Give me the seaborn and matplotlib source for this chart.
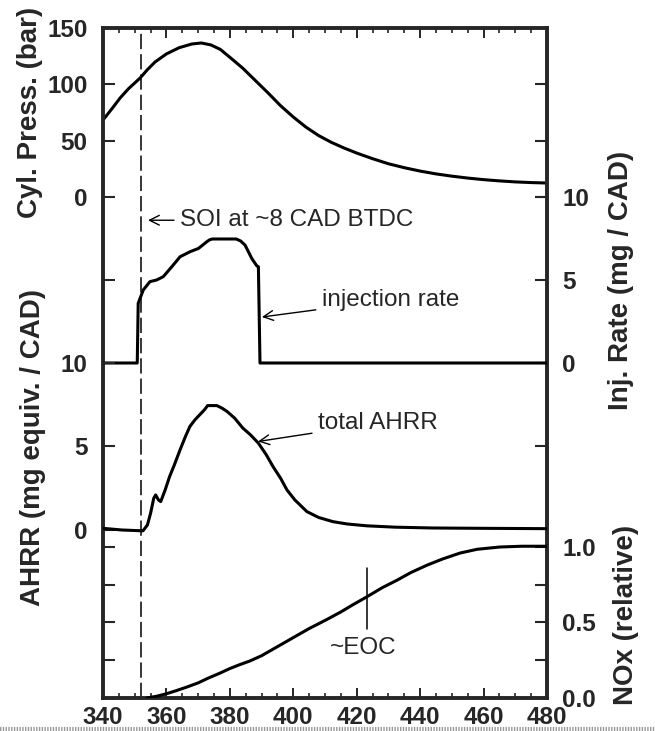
import matplotlib
matplotlib.use("Agg")
import matplotlib.pyplot as plt
from matplotlib.ticker import MultipleLocator
from matplotlib.lines import Line2D
import seaborn as sns

# style
sns.set_style("ticks")
plt.rcParams['font.family'] = ['Liberation Sans', 'DejaVu Sans']
plt.rcParams['font.weight'] = 'bold'
plt.rcParams['lines.scale_dashes'] = False

# cylinder pressure (bar) vs crank angle
press_cad = [340, 343, 345.4, 348, 351.7, 354, 356.4, 360, 364, 368, 371, 374, 377,
             380, 384, 388, 392, 396, 400, 404, 408, 412, 416, 420, 425, 430, 435,
             440, 445, 450, 455, 460, 465, 470, 475, 480]
press_bar = [68.3, 79.0, 87.9, 96.0, 105.6, 113.0, 119.8, 127.0, 132.5, 135.8, 136.7,
             135.0, 131.0, 124.0, 114.5, 103.5, 92.5, 81.0, 71.0, 62.0, 54.5, 48.5,
             43.5, 39.0, 34.0, 29.5, 26.0, 23.0, 20.5, 18.5, 16.8, 15.4, 14.3, 13.4,
             12.8, 12.4]

# injection rate (mg / CAD)
inj_cad = [340, 350.8, 351.1, 352.7, 354.8, 356.9, 359.0, 361.7, 364.3, 367.4, 370.1,
           372.7, 373.6, 374.5, 382.0, 383.4, 384.8, 386.9, 388.5, 389.0, 389.5, 480]
inj_rate = [0, 0, 3.6, 4.4, 4.9, 5.0, 5.2, 5.8, 6.4, 6.7, 6.9,
            7.3, 7.42, 7.47, 7.47, 7.35, 7.1, 6.3, 5.85, 5.8, 0, 0]

# apparent heat release rate (mg equiv. / CAD)
ahrr_cad = [340, 346, 352.6, 354, 355, 356, 356.6, 357.5, 358.2, 359.6, 361, 362.5,
            364.3, 366, 367.4, 369, 370.5, 372, 373, 375.9, 377.5, 379.1, 381.5,
            384.1, 386.5, 389, 391.5, 393.6, 396, 398, 400.5, 404.3, 408, 412.5,
            417, 423.2, 432, 444, 460, 480]
ahrr = [0.1, 0.0, -0.05, 0.3, 1.0, 1.9, 2.1, 1.8, 1.7, 2.4, 3.2, 3.9,
        4.8, 5.6, 6.2, 6.6, 6.9, 7.2, 7.45, 7.45, 7.3, 7.1, 6.7,
        6.1, 5.7, 5.2, 4.5, 3.8, 3.1, 2.4, 1.8, 1.1, 0.75, 0.5,
        0.36, 0.25, 0.17, 0.12, 0.1, 0.08]

# relative NOx
nox_cad = [353.9, 357, 360, 363, 366.5, 370, 373, 376.9, 380, 383, 386.3, 390, 395,
           400, 405, 410.6, 415, 419, 423.2, 428, 432.7, 437, 442.2, 447, 452.6,
           458, 465.2, 472, 480]
nox = [0, 0.012, 0.028, 0.048, 0.073, 0.10, 0.13, 0.165, 0.195, 0.22, 0.245, 0.28,
       0.34, 0.40, 0.46, 0.52, 0.57, 0.62, 0.67, 0.73, 0.78, 0.83, 0.88, 0.92,
       0.96, 0.985, 1.0, 1.005, 1.005]

# markers
soi_cad = 352
eoc_cad = 423.2
eoc_span = [0.46, 0.86]

fig = plt.figure(figsize=(6.55, 7.31), dpi=100)
ax = fig.add_axes([103 / 655, 33 / 731, 444 / 655, 670 / 731])
ax_inj = ax.twinx()
ax_hr = ax.twinx()
ax_nox = ax.twinx()

line_kw = dict(color='black', linewidth=2.2, estimator=None, sort=False)
sns.lineplot(x=press_cad, y=press_bar, ax=ax, **line_kw)
sns.lineplot(x=inj_cad, y=inj_rate, ax=ax_inj, **line_kw)
sns.lineplot(x=ahrr_cad, y=ahrr, ax=ax_hr, **line_kw)
sns.lineplot(x=nox_cad, y=nox, ax=ax_nox, **line_kw)

ax.axvline(soi_cad, color='black', lw=1.1, dashes=(11, 3.6))
ax_nox.plot([eoc_cad, eoc_cad], eoc_span, color='black', lw=1.1)

# limits so that every curve sits in its own band
ax.set_xlim(340, 480)
ax.set_ylim(-444.7, 150)
ax_inj.set_ylim(-20.18, 20.18)
ax_hr.set_ylim(-10.06, 30.06)
ax_nox.set_ylim(0, 4.437)

for a in (ax, ax_inj, ax_hr, ax_nox):
    a.set_xlabel('')
    a.set_ylabel('')

for a in (ax_inj, ax_hr, ax_nox):
    for s in a.spines.values():
        s.set_visible(False)

for s in ax.spines.values():
    s.set_linewidth(2.8)
    s.set_visible(True)

# x axis
ax.xaxis.set_major_locator(MultipleLocator(20))
ax.xaxis.set_minor_locator(MultipleLocator(5))
ax.tick_params(axis='x', which='major', direction='in', length=7.5, width=1.4,
               top=True, bottom=True, labelsize=17.5, pad=6)
ax.tick_params(axis='x', which='minor', direction='in', length=3.8, width=1.2,
               top=True, bottom=True)

ytick_kw = dict(axis='y', direction='in', length=8.5, width=1.5, labelsize=17.5, pad=11)

# pressure: labels left, ticks both sides
ax.set_yticks([0, 50, 100, 150])
ax.tick_params(left=True, right=True, labelleft=True, labelright=False, **ytick_kw)

# injection rate: labels right
ax_inj.set_yticks([-5, 0, 5, 10])
ax_inj.set_yticklabels(['', '0', '5', '10'])
ax_inj.tick_params(left=False, right=True, labelleft=False, labelright=True, **ytick_kw)

# AHRR: labels left
ax_hr.set_yticks([0, 5, 10, 15])
ax_hr.set_yticklabels(['0', '5', '10', ''])
ax_hr.yaxis.set_ticks_position('left')
ax_hr.tick_params(left=True, right=False, labelleft=True, labelright=False, **ytick_kw)

# NOx: labels right, ticks both sides
ax_nox.set_yticks([0, 0.25, 0.5, 0.75, 1.0])
ax_nox.set_yticklabels(['0.0', '', '0.5', '', '1.0'])
ax_nox.tick_params(left=True, right=True, labelleft=False, labelright=True, **ytick_kw)

# axis titles
fig.text(30 / 655, 1 - 112 / 731, 'Cyl. Press. (bar)', rotation=90,
         ha='center', va='center', fontsize=20)
fig.text(33 / 655, 1 - 448 / 731, 'AHRR (mg equiv. / CAD)', rotation=90,
         ha='center', va='center', fontsize=20)
fig.text(621 / 655, 1 - 280 / 731, 'Inj. Rate (mg / CAD)', rotation=90,
         ha='center', va='center', fontsize=20)
fig.text(626 / 655, 1 - 615 / 731, 'NOx (relative)', rotation=90,
         ha='center', va='center', fontsize=20)

# annotations
arrow = dict(arrowstyle='->', color='black', lw=1.0, shrinkA=2, shrinkB=0)
ax_inj.annotate('SOI at ~8 CAD BTDC', xy=(354.2, 8.6), xytext=(364.3, 8.6),
                ha='left', va='center', fontsize=17.5, fontweight='normal',
                arrowprops=arrow)
ax_inj.annotate('injection rate', xy=(390.1, 2.77), xytext=(409, 3.8),
                ha='left', va='center', fontsize=17.5, fontweight='normal',
                arrowprops=arrow)
ax_hr.annotate('total AHRR', xy=(388.9, 5.3), xytext=(407.8, 6.4),
               ha='left', va='center', fontsize=17.5, fontweight='normal',
               arrowprops=arrow)
ax_nox.text(422, 0.33, '~EOC', ha='center', va='center', fontsize=17.5,
            fontweight='normal')

# grey scan band at the very bottom
fig.add_artist(Line2D([0, 1], [2.5 / 731, 2.5 / 731], transform=fig.transFigure,
                      color='#999999', lw=3, linestyle=(0, (1, 1))))

fig.savefig('out.png', dpi=100)
